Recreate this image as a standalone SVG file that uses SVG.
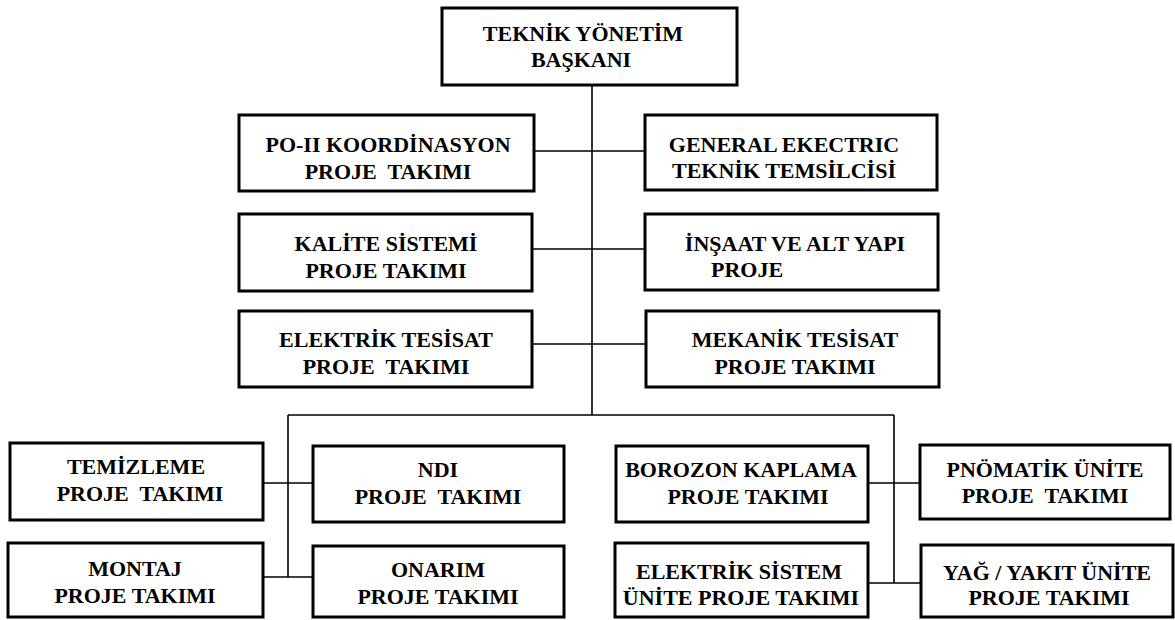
<svg xmlns="http://www.w3.org/2000/svg" width="1175" height="620" viewBox="0 0 1175 620">
<style>
.box{fill:#fff;stroke:#000;stroke-width:3}
.ln{fill:none;stroke:#000;stroke-width:1.6}
text{font-family:"Liberation Serif","Times New Roman",serif;font-weight:bold;font-size:22px;fill:#000;text-anchor:middle;white-space:pre}
</style>
<rect width="1175" height="620" fill="#fff"/>
<g id="connectors">
<path class="ln" d="M592 85V415M534 151H645M532 249H645M532 344H646M288 415H894M288 415V577M263 483H313M263 577H313M894 415V583M868 483H920M868 583H921"/>
</g>
<g id="n_baskan"><rect class="box" x="442" y="8" width="295" height="77"/><text x="583" y="41">TEKNİK YÖNETİM</text><text x="581" y="67">BAŞKANI</text></g>
<g id="n_po2"><rect class="box" x="239" y="115" width="295" height="76"/><text x="388" y="152">PO-II KOORDİNASYON</text><text x="388" y="179" xml:space="preserve">PROJE  TAKIMI</text></g>
<g id="n_ge"><rect class="box" x="645" y="115" width="292" height="75"/><text x="784" y="152">GENERAL EKECTRIC</text><text x="784" y="178">TEKNİK TEMSİLCİSİ</text></g>
<g id="n_kalite"><rect class="box" x="239" y="214" width="293" height="77"/><text x="386" y="251">KALİTE SİSTEMİ</text><text x="386" y="278">PROJE TAKIMI</text></g>
<g id="n_insaat"><rect class="box" x="645" y="214" width="293" height="76"/><text x="795" y="251">İNŞAAT VE ALT YAPI</text><text x="711" y="277" style="text-anchor:start">PROJE</text></g>
<g id="n_elektes"><rect class="box" x="239" y="311" width="293" height="76"/><text x="386" y="347">ELEKTRİK TESİSAT</text><text x="386" y="374" xml:space="preserve">PROJE  TAKIMI</text></g>
<g id="n_mektes"><rect class="box" x="646" y="311" width="293" height="76"/><text x="795" y="347">MEKANİK TESİSAT</text><text x="795" y="374">PROJE TAKIMI</text></g>
<g id="n_temiz"><rect class="box" x="10" y="443" width="253" height="77"/><text x="136" y="474">TEMİZLEME</text><text x="140" y="501" xml:space="preserve">PROJE  TAKIMI</text></g>
<g id="n_ndi"><rect class="box" x="313" y="446" width="251" height="76"/><text x="438" y="477">NDI</text><text x="438" y="504" xml:space="preserve">PROJE  TAKIMI</text></g>
<g id="n_montaj"><rect class="box" x="8" y="543" width="255" height="74"/><text x="135" y="576">MONTAJ</text><text x="135" y="603">PROJE TAKIMI</text></g>
<g id="n_onarim"><rect class="box" x="313" y="546" width="251" height="71"/><text x="438" y="577">ONARIM</text><text x="438" y="604">PROJE TAKIMI</text></g>
<g id="n_borozon"><rect class="box" x="616" y="446" width="252" height="76"/><text x="741" y="477">BOROZON KAPLAMA</text><text x="748" y="504">PROJE TAKIMI</text></g>
<g id="n_pnomatik"><rect class="box" x="920" y="445" width="250" height="74"/><text x="1045" y="477">PNÖMATİK ÜNİTE</text><text x="1045" y="503" xml:space="preserve">PROJE  TAKIMI</text></g>
<g id="n_eleksis"><rect class="box" x="615" y="543" width="253" height="74"/><text x="739" y="579">ELEKTRİK SİSTEM</text><text x="741" y="605">ÜNİTE PROJE TAKIMI</text></g>
<g id="n_yag"><rect class="box" x="921" y="545" width="252" height="72"/><text x="1047" y="580">YAĞ / YAKIT ÜNİTE</text><text x="1049" y="605">PROJE TAKIMI</text></g>
</svg>
